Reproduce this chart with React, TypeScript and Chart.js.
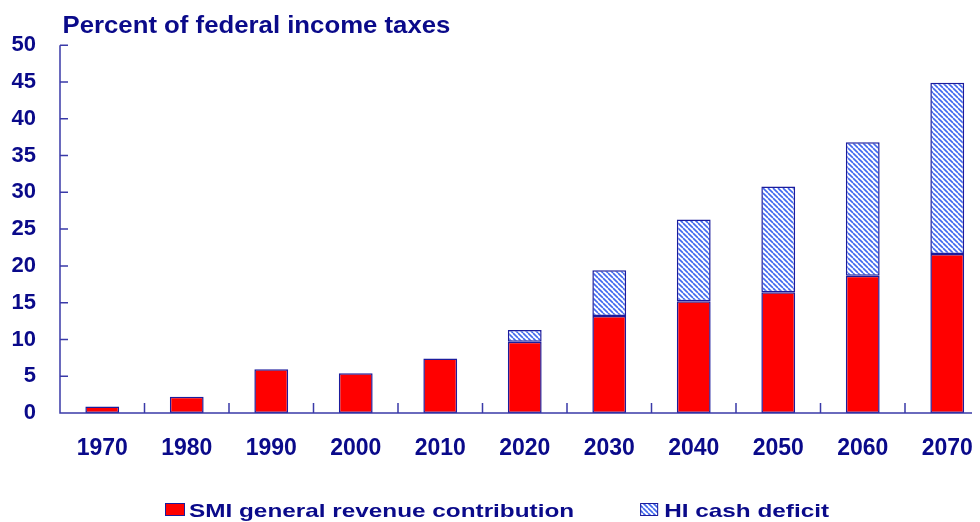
import React, { useEffect, useRef } from "react";
import { Chart, registerables } from "chart.js";

Chart.register(...registerables);

// ---- Data ----
const years = ["1970", "1980", "1990", "2000", "2010", "2020", "2030", "2040", "2050", "2060", "2070"];
const smiContribution = [0.9, 2.2, 5.95, 5.4, 7.4, 9.7, 13.2, 15.2, 16.4, 18.65, 21.6];
const hiCashDeficit = [null, null, null, null, null, 1.6, 6.2, 11.1, 14.4, 18.15, 23.3];
const yTicks = [0, 5, 10, 15, 20, 25, 30, 35, 40, 45, 50];
const chartTitle = "Percent of federal income taxes";
const seriesNames = ["SMI general revenue contribution", "HI cash deficit"];

// ---- Styles ----
const NAVY = "#0a0a8a";
const AXIS = "#3a3aa8";
const BORDER = "#1c1c9c";
const RED = "#ff0000";
const HATCH_LINE = "#4068ee";
const FONT = '"Liberation Sans", Arial, sans-serif';

function makeHatch(): CanvasPattern | string {
  const s = 5;
  const c = document.createElement("canvas");
  c.width = s;
  c.height = s;
  const g = c.getContext("2d");
  if (!g) return "#ffffff";
  g.fillStyle = "#ffffff";
  g.fillRect(0, 0, s, s);
  g.strokeStyle = HATCH_LINE;
  g.lineWidth = 1.6;
  g.beginPath();
  for (let k = -1; k <= 1; k++) {
    g.moveTo(k * s, 0);
    g.lineTo(k * s + s, s);
  }
  g.stroke();
  const p = g.createPattern(c, "repeat");
  return p || "#ffffff";
}

export default function App() {
  const ref = useRef<HTMLCanvasElement | null>(null);

  useEffect(() => {
    const canvas = ref.current;
    if (!canvas) return;
    const hatch = makeHatch();

    const decor = {
      id: "decor",
      afterDatasetsDraw(chart: any) {
        const { ctx, chartArea, scales } = chart;
        const { left, right, bottom } = chartArea;
        const x = scales.x;
        const y = scales.y;
        ctx.save();
        // axes + tick marks
        ctx.strokeStyle = AXIS;
        ctx.lineWidth = 1.5;
        ctx.beginPath();
        ctx.moveTo(left, y.getPixelForValue(yTicks[yTicks.length - 1]));
        ctx.lineTo(left, bottom);
        ctx.lineTo(right, bottom);
        yTicks.forEach((v) => {
          const py = y.getPixelForValue(v);
          ctx.moveTo(left, py);
          ctx.lineTo(left + 8, py);
        });
        for (let i = 0; i <= years.length; i++) {
          const px = x.getPixelForValue(i - 0.5);
          ctx.moveTo(px, bottom);
          ctx.lineTo(px, bottom - 10);
        }
        ctx.stroke();

        // title
        ctx.fillStyle = NAVY;
        ctx.textBaseline = "alphabetic";
        ctx.textAlign = "left";
        ctx.font = `bold 24px ${FONT}`;
        ctx.save();
        ctx.translate(left + 2.5, 25);
        ctx.scale(1.073, 1);
        ctx.fillText(chartTitle, 0, 0);
        ctx.restore();

        // legend
        const sx = 1.28;
        ctx.font = `bold 19px ${FONT}`;
        const baseY = 508.5;
        let cx = 157;
        // item 1
        ctx.fillStyle = RED;
        ctx.fillRect(cx, 495, 20, 13);
        ctx.strokeStyle = BORDER;
        ctx.lineWidth = 1;
        ctx.strokeRect(cx + 0.5, 495.5, 19, 12);
        cx += 24;
        ctx.fillStyle = NAVY;
        ctx.save();
        ctx.translate(cx, baseY);
        ctx.scale(sx, 1);
        ctx.fillText(seriesNames[0], 0, 0);
        ctx.restore();
        cx += ctx.measureText(seriesNames[0]).width * sx + 66;
        // item 2
        ctx.fillStyle = hatch;
        ctx.fillRect(cx, 495, 18, 13);
        ctx.strokeStyle = BORDER;
        ctx.strokeRect(cx + 0.5, 495.5, 17, 12);
        cx += 24;
        ctx.fillStyle = NAVY;
        ctx.save();
        ctx.translate(cx, baseY);
        ctx.scale(sx, 1);
        ctx.fillText(seriesNames[1], 0, 0);
        ctx.restore();

        ctx.restore();
      },
    };

    const chart = new Chart(canvas, {
      type: "bar",
      data: {
        labels: years,
        datasets: [
          {
            label: seriesNames[0],
            data: smiContribution,
            backgroundColor: RED,
            borderColor: BORDER,
            borderWidth: 1.5,
            borderSkipped: false,
            barPercentage: 0.4,
            categoryPercentage: 1,
            stack: "s",
          },
          {
            label: seriesNames[1],
            data: hiCashDeficit as any,
            backgroundColor: hatch as any,
            borderColor: BORDER,
            borderWidth: 1.5,
            borderSkipped: false,
            barPercentage: 0.4,
            categoryPercentage: 1,
            stack: "s",
          },
        ],
      },
      options: {
        responsive: false,
        animation: false,
        layout: { padding: { top: 35, right: 18.5, bottom: 49, left: 0 } },
        plugins: {
          legend: { display: false },
          title: { display: false },
          tooltip: { enabled: false },
        },
        scales: {
          x: {
            stacked: true,
            grid: { display: false, drawTicks: false },
            border: { display: false },
            ticks: {
              color: NAVY,
              font: { family: FONT, size: 23, weight: "bold" },
              padding: 22,
              maxRotation: 0,
              autoSkip: false,
            },
            afterFit: (s: any) => {
              s.height = 60;
            },
          },
          y: {
            stacked: true,
            min: yTicks[0],
            max: yTicks[yTicks.length - 1],
            grid: { display: false, drawTicks: false },
            border: { display: false },
            ticks: {
              stepSize: yTicks[1] - yTicks[0],
              color: NAVY,
              font: { family: FONT, size: 22, weight: "bold" },
              padding: 24,
            },
            afterFit: (s: any) => {
              s.width = 52;
            },
          },
        },
      },
      plugins: [decor],
    });

    return () => chart.destroy();
  }, []);

  return (
    <div style={{ width: 972, height: 514, overflow: "hidden" }}>
      <canvas ref={ref} width={1000} height={514} style={{ display: "block" }} />
    </div>
  );
}
